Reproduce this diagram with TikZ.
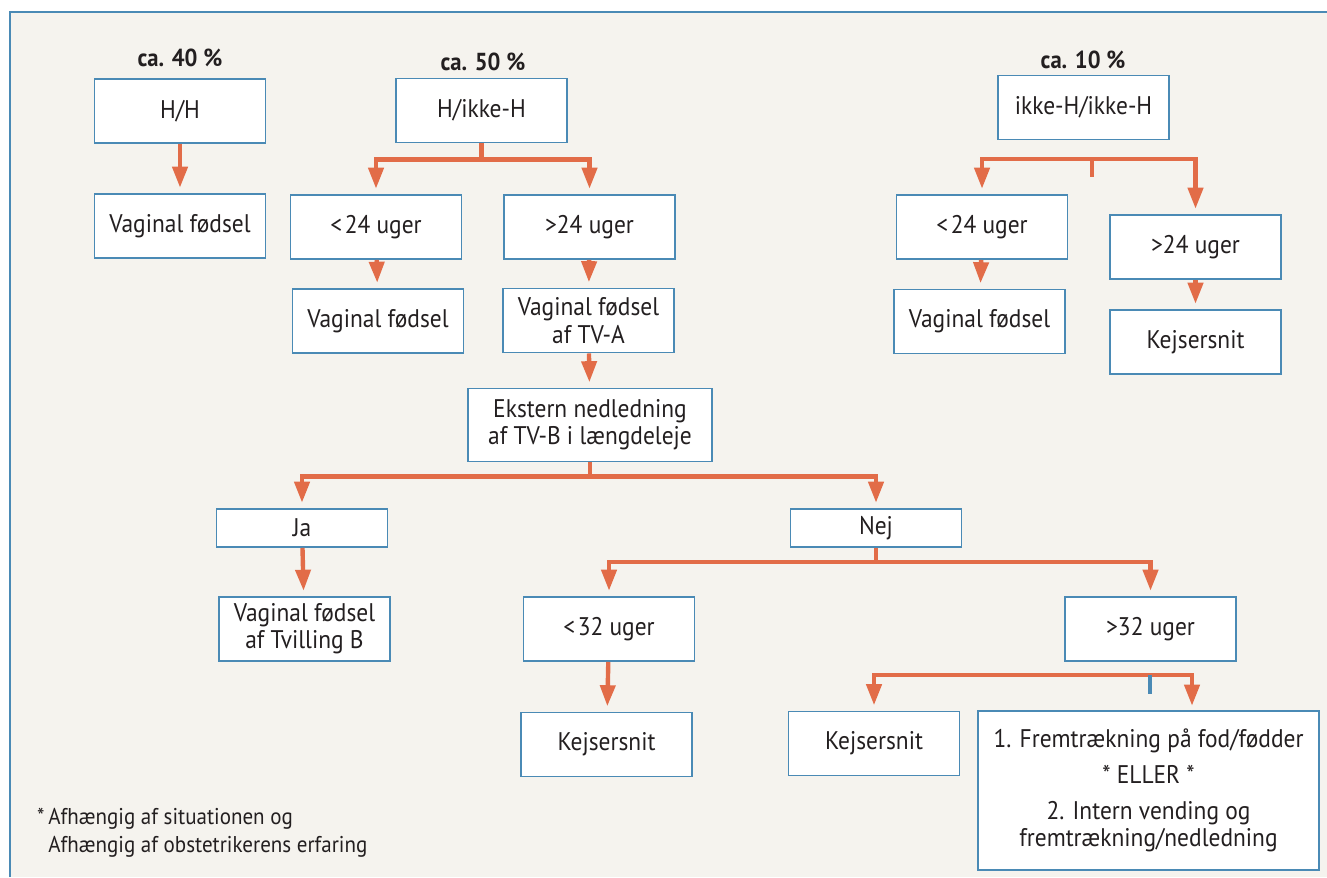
\documentclass[tikz,border=0pt]{standalone}
\usepackage{fontspec}
\setmainfont{PT Sans}[FakeStretch=0.92]
\usetikzlibrary{arrows.meta}

\definecolor{paper}{RGB}{245,243,238}
\definecolor{rim}{RGB}{74,138,181}
\definecolor{pil}{RGB}{226,108,72}
\definecolor{ink}{RGB}{35,31,32}

\tikzset{
  box/.style={draw=rim, line width=1.1pt, fill=white, text=ink, align=center,
    minimum width=3.42cm, minimum height=1.28cm, inner sep=0pt,
    font=\fontsize{14.5}{15.5}\selectfont},
  flat/.style={box, minimum height=0.76cm},
  pct/.style={text=ink, font=\fontsize{14}{15.5}\selectfont\bfseries},
  link/.style={draw=pil, line width=2.5pt},
  pfeil/.style={link, ->, shorten >=3pt},
}

\begin{document}
\begin{tikzpicture}[>={Triangle[length=12pt,width=8.5pt]}]
\useasboundingbox (0,0) rectangle (26.54,-17.54);
\fill[paper] (0.2,-0.24) rectangle (26.54,-17.54);
\draw[rim, line width=1.2pt] (0.2,-17.54) |- (26.54,-0.24);

% ca. 40 %
\node (p40) at (3.6,-1.16)[pct]{ca. 40 \%};
\node (hh) at (3.6,-2.22)[box]{H/H};
\node (vf1) at (3.6,-4.52)[box]{Vaginal fødsel};
\draw[pfeil](hh)--(vf1);

% ca. 50 %
\node (p50) at (9.66,-1.24)[pct]{ca. 50 \%};
\node (hih) at (9.63,-2.21)[box]{H/ikke-H};
\node (lt24a) at (7.52,-4.54)[box]{<\kern1.5pt24 uger};
\node (gt24a) at (11.79,-4.54)[box]{>24 uger};
\node (vf2) at (7.56,-6.42)[box]{Vaginal fødsel};
\node (vfa) at (11.77,-6.41)[box]{Vaginal fødsel\\af TV-A};
\draw[link](hih.south)--++(0,-0.32)coordinate(f1);
\draw[pfeil](f1)-|(lt24a);
\draw[pfeil](f1)-|(gt24a);
\draw[pfeil](lt24a)--(vf2);
\draw[pfeil](gt24a)--(vfa);

\node (ekst) at (11.8,-8.5)[box, minimum width=4.88cm, minimum height=1.46cm]{Ekstern nedledning\\af TV-B i længdeleje};
\draw[pfeil](vfa)--(ekst);
\node (ja) at (6.04,-10.56)[flat]{Ja};
\node (nej) at (17.52,-10.56)[flat]{Nej};
\draw[link](ekst.south)--++(0,-0.28)coordinate(f3);
\draw[pfeil](f3)-|(ja);
\draw[pfeil](f3)-|(nej);
\node (vfb) at (6.09,-12.58)[box]{Vaginal fødsel\\af Tvilling B};
\draw[pfeil](ja)--(vfb);

\node (lt32) at (12.18,-12.58)[box]{<\kern1.5pt32 uger};
\node (gt32) at (23.01,-12.58)[box]{>32 uger};
\draw[link](nej.south)--++(0,-0.28)coordinate(f4);
\draw[pfeil](f4)-|(lt32);
\draw[pfeil](f4)-|(gt32);
\node (ks1) at (12.13,-14.89)[box]{Kejsersnit};
\draw[pfeil](lt32)--(ks1);

\node (ks2) at (17.48,-14.87)[box]{Kejsersnit};
\node (big) at (22.97,-15.81)[box, minimum width=6.82cm, minimum height=3.18cm]{1. Fremtrækning på fod/fødder\\[5pt]* ELLER *\\[5pt]2. Intern vending og\\fremtrækning/nedledning};
\coordinate (f5) at (23,-13.5);
\coordinate (bigtop) at (23.84,-14.22);
\draw[pfeil](f5)-|(ks2);
\draw[pfeil](f5)-|(bigtop);
\draw[rim, line width=2.4pt](f5)--++(0,-0.38);

% ca. 10 %
\node (p10) at (21.66,-1.2)[pct]{ca. 10 \%};
\node (ihih) at (21.67,-2.15)[box]{ikke-H/ikke-H};
\node (lt24b) at (19.64,-4.54)[box]{<\kern1.5pt24 uger};
\node (gt24b) at (23.91,-4.94)[box]{>24 uger};
\node (vf3) at (19.59,-6.43)[box]{Vaginal fødsel};
\node (ks3) at (23.91,-6.84)[box]{Kejsersnit};
\coordinate (f2) at (21.84,-3.18);
\draw[pfeil](f2)-|(lt24b);
\draw[pfeil](f2)-|(gt24b);
\draw[link](f2)--++(0,-0.36);
\draw[pfeil](lt24b)--(vf3);
\draw[pfeil](gt24b)--(ks3);

\node (note) at (0.62,-16.66)[anchor=west, align=left, text=ink, font=\fontsize{13}{15.8}\selectfont]{*\,Afhængig af situationen og\\\hphantom{*\,}Afhængig af obstetrikerens erfaring};
\end{tikzpicture}
\end{document}
